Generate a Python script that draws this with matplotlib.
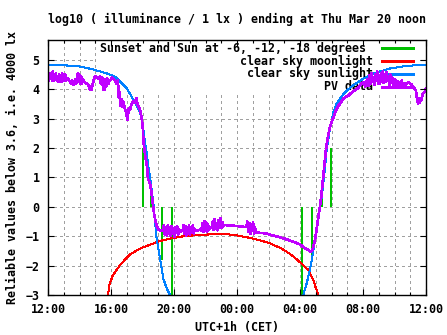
import matplotlib
matplotlib.use("Agg")
import matplotlib.pyplot as plt
from matplotlib.patches import Rectangle
from matplotlib.ticker import FixedLocator, MultipleLocator

# ---------------------------------------------------------------- data
# hours counted from Wednesday 12:00 local time (CET)
hour_ticks = [0, 4, 8, 12, 16, 20, 24]
hour_labels = ["12:00", "16:00", "20:00", "00:00", "04:00", "08:00", "12:00"]
level_ticks = [-3, -2, -1, 0, 1, 2, 3, 4, 5]

# sunset / sunrise and sun at -6, -12, -18 degrees (vertical markers from 0)
sun_event_hours = [6.05, 6.57, 7.22, 7.85, 16.13, 16.78, 17.39, 17.96]
sun_event_levels = [2.0, 0.55, -1.8, -3.0, -3.0, -1.8, 0.4, 2.0]

# clear sky moonlight, log10(lx)
moon_hours = [3.81, 3.9, 4.1, 4.57, 5.2, 5.84, 6.48, 7.11, 7.75, 8.6, 9.65,
              10.7, 11.5, 12.0, 12.95, 14.0, 14.84, 15.47, 16.1, 16.53,
              16.85, 17.0, 17.16]
moon_values = [-3.0, -2.65, -2.35, -1.98, -1.62, -1.42, -1.29, -1.16, -1.08,
               -1.0, -0.95, -0.93, -0.94, -0.97, -1.07, -1.22, -1.42, -1.64,
               -1.93, -2.15, -2.5, -2.75, -3.0]

# clear sky sunlight, log10(lx)
sun_hours = [0.0, 1.0, 2.0, 2.85, 3.7, 4.3, 4.6, 5.0, 5.42, 5.73, 5.95, 6.05,
             6.16, 6.27, 6.37, 6.48, 6.58, 6.69, 6.79, 6.9, 7.0, 7.11, 7.22,
             7.32, 7.54, 7.75,
             16.21, 16.42, 16.63, 16.78, 16.95, 17.1, 17.23, 17.38, 17.48,
             17.59, 17.69, 17.8, 17.9, 18.0, 18.11, 18.32, 18.54, 18.86,
             19.17, 19.6, 20.0, 20.65, 21.71, 22.77, 24.0]
sun_values = [4.84, 4.82, 4.78, 4.68, 4.55, 4.42, 4.26, 4.03, 3.65, 3.35,
              3.05, 2.65, 2.2, 1.83, 1.38, 1.0, 0.57, 0.12, -0.45, -1.1,
              -1.4, -1.76, -2.1, -2.44, -2.78, -3.0,
              -3.0, -2.61, -2.15, -1.7, -1.13, -0.57, -0.11, 0.34, 0.8,
              1.36, 1.93, 2.3, 2.65, 2.9, 3.2, 3.5, 3.69, 3.9,
              4.05, 4.22, 4.36, 4.54, 4.71, 4.8, 4.84]

# photovoltaic sensor readings, log10(lx)
pv_hours = [
    0.00, 0.05, 0.10, 0.15, 0.20, 0.25, 0.30, 0.35, 0.40, 0.45, 0.50, 0.55,
    0.60, 0.65, 0.70, 0.75, 0.80, 0.85, 0.90, 0.95, 1.00, 1.05, 1.10, 1.15,
    1.20, 1.30, 1.40, 1.50, 1.55, 1.60, 1.70, 1.75, 1.80, 1.85, 1.90, 1.95,
    2.00, 2.05, 2.10, 2.15, 2.20, 2.30, 2.40, 2.45, 2.55, 2.65, 2.70, 2.75,
    2.85, 2.95, 3.00, 3.10, 3.20, 3.30, 3.35, 3.45, 3.50, 3.55, 3.60, 3.65,
    3.70, 3.75, 3.80, 3.85, 3.90, 4.00, 4.05, 4.15, 4.25, 4.35, 4.44,
    4.50, 4.55, 4.60, 4.70, 4.75, 4.80, 4.90, 4.97, 5.05, 5.12, 5.20, 5.30,
    5.40, 5.50, 5.60, 5.68, 5.75, 5.85, 5.95, 6.02, 6.05, 6.10, 6.18, 6.28,
    6.35, 6.48, 6.58, 6.67, 6.75, 6.82, 6.90, 7.00, 7.10, 7.20,
    7.30, 7.36, 7.42, 7.48, 7.54, 7.60, 7.66, 7.72, 7.78, 7.84, 7.90, 7.96,
    8.02, 8.08, 8.14, 8.20, 8.26, 8.32, 8.38, 8.45, 8.55, 8.60, 8.66, 8.72,
    8.78, 8.84, 8.90, 8.96, 9.02, 9.08, 9.14, 9.20, 9.26, 9.32, 9.40, 9.50,
    9.65, 9.75,
    9.80, 9.86, 9.92, 9.98, 10.04, 10.10, 10.16, 10.22, 10.30, 10.40, 10.46,
    10.52, 10.58, 10.64, 10.70, 10.76, 10.82, 10.88, 10.94, 11.00, 11.06,
    11.12, 11.20, 11.30, 11.60, 12.00, 12.40, 12.60,
    12.66, 12.72, 12.78, 12.84, 12.90, 12.96, 13.02, 13.08, 13.14, 13.20,
    13.30, 13.80, 14.00, 14.40, 15.00, 15.60, 16.00, 16.30, 16.55, 16.68,
    16.80, 16.95, 17.05, 17.15, 17.25, 17.35, 17.45, 17.55, 17.65, 17.75,
    17.85, 17.95, 18.05, 18.15, 18.30, 18.45, 18.60, 18.75, 18.90, 19.10,
    19.30, 19.50, 19.70, 19.90, 20.05, 20.15, 20.25,
    20.30, 20.36, 20.42, 20.48, 20.54, 20.60, 20.66, 20.72, 20.78, 20.84,
    20.90, 20.96, 21.02, 21.08, 21.14, 21.20, 21.26, 21.32, 21.38, 21.44,
    21.50, 21.56, 21.62, 21.68, 21.74, 21.80, 21.86, 21.92, 21.98, 22.04,
    22.10, 22.16, 22.22, 22.28, 22.34, 22.40, 22.46, 22.52, 22.60, 22.70,
    22.80, 22.90, 23.00, 23.10, 23.20, 23.30, 23.35, 23.45, 23.50, 23.55,
    23.60, 23.70, 23.80, 23.90, 24.00,
]
pv_values = [
    4.45, 4.30, 4.55, 4.35, 4.50, 4.30, 4.60, 4.28, 4.50, 4.32, 4.56, 4.30,
    4.45, 4.25, 4.52, 4.30, 4.48, 4.26, 4.55, 4.30, 4.45, 4.28, 4.50, 4.30,
    4.38, 4.35, 4.25, 4.20, 4.30, 4.15, 4.20, 4.35, 4.20, 4.40, 4.55, 4.25,
    4.50, 4.20, 4.45, 4.20, 4.35, 4.25, 4.20, 4.22, 4.15, 4.00, 4.10, 3.97,
    4.20, 4.40, 4.45, 4.40, 4.35, 4.45, 4.20, 4.40, 4.00, 4.30, 3.98, 4.35,
    4.10, 4.38, 4.30, 4.20, 4.30, 4.32, 4.40, 4.35, 4.30, 4.20, 4.30,
    3.70, 3.90, 3.45, 3.65, 3.40, 3.55, 3.30, 3.20, 2.95, 3.35, 3.30, 3.50,
    3.60, 3.55, 3.70, 3.50, 3.40, 3.30, 3.00, 2.70, 2.30, 2.05, 1.70, 1.40,
    0.95, 0.80, 0.46, 0.05, -0.30, -0.45, -0.65, -0.77, -0.80, -0.82,
    -0.80, -0.62, -0.95, -0.68, -0.98, -0.64, -0.90, -0.70, -1.00, -0.66,
    -0.92, -0.74, -1.02, -0.70, -0.88, -0.66, -0.95, -0.76, -0.85, -0.82,
    -0.82, -0.62, -0.92, -0.66, -0.98, -0.70, -0.90, -0.64, -0.94, -0.72,
    -0.85, -0.62, -0.90, -0.75, -0.80, -0.80, -0.78, -0.80,
    -0.55, -0.85, -0.48, -0.80, -0.52, -0.86, -0.60, -0.78, -0.72, -0.70,
    -0.50, -0.78, -0.42, -0.75, -0.55, -0.80, -0.45, -0.70, -0.38, -0.72,
    -0.52, -0.66, -0.62, -0.62, -0.64, -0.65, -0.68, -0.68,
    -0.50, -0.85, -0.55, -0.92, -0.60, -0.80, -0.52, -0.90, -0.70, -0.88,
    -0.88, -0.90, -0.93, -0.99, -1.08, -1.19, -1.28, -1.40, -1.48, -1.52,
    -1.47, -1.13, -0.79, -0.40, -0.05, 0.35, 0.90, 1.45, 1.95, 2.30,
    2.60, 2.80, 2.95, 3.08, 3.30, 3.45, 3.55, 3.68, 3.74, 3.80,
    3.90, 3.97, 4.05, 4.20, 4.25, 4.10, 4.30,
    4.35, 4.12, 4.48, 4.20, 4.55, 4.25, 4.40, 4.15, 4.50, 4.30,
    4.60, 4.20, 4.45, 4.18, 4.55, 4.30, 4.62, 4.22, 4.50, 4.25,
    4.58, 4.28, 4.45, 4.15, 4.50, 4.22, 4.40, 4.12, 4.35, 4.20,
    4.30, 4.10, 4.28, 4.12, 4.25, 4.10, 4.30, 4.15, 4.22, 4.15,
    4.20, 4.25, 4.20, 4.15, 4.08, 4.00, 3.97, 3.63, 3.52, 3.70,
    3.55, 3.65, 3.86, 3.90, 4.03,
]

legend_labels = ["Sunset and Sun at -6, -12, -18 degrees ",
                 "clear sky moonlight", "clear sky sunlight", "PV data"]
legend_colors = ["#00c000", "#ff0000", "#0080ff", "#c000ff"]

title = "log10 ( illuminance / 1 lx ) ending at Thu Mar 20 noon"
x_title = "UTC+1h (CET)"
y_title = "Reliable values below 3.6, i.e. 4000 lx"

# ---------------------------------------------------------------- style
plt.rcParams["font.family"] = ["DejaVu Sans Mono"]
plt.rcParams["font.weight"] = "bold"
FS = 8.35

W, H = 447, 335
fig = plt.figure(figsize=(W / 100, H / 100), dpi=100)
ax = fig.add_axes([48 / W, 40 / H, 378 / W, 255 / H])
ax.set_xlim(0, 24)
ax.set_ylim(-3, 5.68)

grid_kw = dict(color="#a0a0a0", lw=0.75, ls=(0, (2.0, 3.5)), zorder=0.6,
               antialiased=False)
for h in range(1, 24):
    ax.axvline(h, **grid_kw)
for v in level_ticks[1:]:
    ax.axhline(v, **grid_kw)

ax.xaxis.set_major_locator(FixedLocator(hour_ticks))
ax.xaxis.set_minor_locator(MultipleLocator(1))
ax.set_xticklabels(hour_labels)
ax.yaxis.set_major_locator(FixedLocator(level_ticks))
ax.set_axisbelow(False)
ax.tick_params(which="both", direction="in", top=True, right=True,
               labelsize=FS, width=0.8, color="black")
ax.tick_params(which="major", length=4.5)
ax.tick_params(which="minor", length=2.2)
ax.tick_params(axis="x", pad=6.0)
ax.tick_params(axis="y", pad=6.0)
for s in ax.spines.values():
    s.set_linewidth(1.0)
    s.set_zorder(5)

# white key box, drawn under the data
ax.add_patch(Rectangle((0.128, 0.796), 0.857, 0.204, transform=ax.transAxes,
                       facecolor="white", edgecolor="none", zorder=1.2))
row_y = [0.9675, 0.9173, 0.8671, 0.8169]
for label, color, y in zip(legend_labels, legend_colors, row_y):
    ax.text(0.86, y, label, transform=ax.transAxes, ha="right", va="center",
            fontsize=FS, zorder=1.5)
    ax.plot([0.883, 0.966], [y, y], transform=ax.transAxes, color=color,
            lw=0.8, zorder=1.6, antialiased=False)

# ---------------------------------------------------------------- series
ax.vlines(sun_event_hours, 0, sun_event_levels, colors=legend_colors[0],
          lw=1.2, zorder=2.0, antialiased=False)
ax.plot(moon_hours, moon_values, color=legend_colors[1], lw=0.75, zorder=2.1,
        antialiased=False)
ax.plot(sun_hours[:26], sun_values[:26], color=legend_colors[2], lw=0.75,
        zorder=2.2, antialiased=False)
ax.plot(sun_hours[26:], sun_values[26:], color=legend_colors[2], lw=0.75,
        zorder=2.2, antialiased=False)
ax.plot(pv_hours, pv_values, color=legend_colors[3], lw=1.2, zorder=2.3,
        antialiased=False)

fig.text(237 / W, 1 - 19.5 / H, title, ha="center", va="center", fontsize=FS)
fig.text(237 / W, 1 - 327 / H, x_title, ha="center", va="center", fontsize=FS)
fig.text(12.5 / W, 1 - 167.5 / H, y_title, ha="center", va="center",
         rotation=90, fontsize=FS)

fig.savefig("out.png", dpi=100)
